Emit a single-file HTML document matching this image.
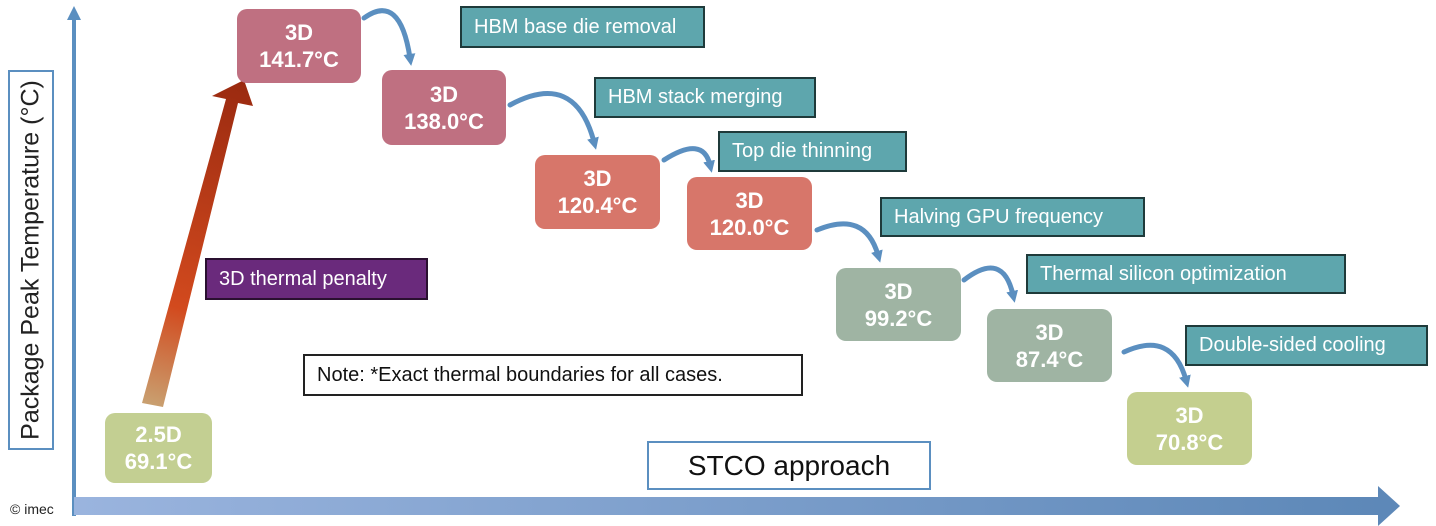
<!DOCTYPE html>
<html><head><meta charset="utf-8"><style>
body{margin:0;width:1436px;height:526px;background:#fff;position:relative;overflow:hidden;font-family:"Liberation Sans",sans-serif}
.b{position:absolute;border-radius:10px;color:#fff;font-weight:bold;font-size:22px;text-align:center;line-height:27px;display:flex;flex-direction:column;justify-content:center}
.l{position:absolute;background:#5ea6ad;border:2px solid #1f3a3a;color:#fff;font-size:20px;box-sizing:border-box;padding-left:12px;display:flex;align-items:center}
</style></head><body>
<svg width="1436" height="526" style="position:absolute;left:0;top:0">
<defs>
<linearGradient id="ax" x1="0" x2="1"><stop offset="0" stop-color="#9ab4de"/><stop offset="1" stop-color="#5d88b8"/></linearGradient>
<linearGradient id="ra" x1="152" y1="405" x2="245" y2="82" gradientUnits="userSpaceOnUse"><stop offset="0" stop-color="#c9a070"/><stop offset="0.3" stop-color="#d24a1e"/><stop offset="1" stop-color="#9a2a10"/></linearGradient>
<marker id="ah" markerWidth="12" markerHeight="12" refX="4" refY="6" orient="auto" markerUnits="userSpaceOnUse"><path d="M0,0 L12,6 L0,12z" fill="#5b8fc0"/></marker>
</defs>
<rect x="72" y="14" width="4" height="502" fill="#5b8fc0"/>
<path d="M67,20 L74,6 L81,20z" fill="#5b8fc0"/>
<rect x="74" y="497" width="1306" height="18" fill="url(#ax)"/>
<path d="M1378,486 L1400,506 L1378,526z" fill="#5d88b8"/>
<path d="M142,403 L163,407 L238,103 L253,106 L244,80 L212,96 L226,99z" fill="url(#ra)"/>
<g fill="none" stroke="#5b8fc0" stroke-width="5" stroke-linecap="round">
<path d="M364,18 Q400,-8 410,58" marker-end="url(#ah)"/>
<path d="M510,105 Q575,70 594,142" marker-end="url(#ah)"/>
<path d="M664,160 Q703,135 710,165" marker-end="url(#ah)"/>
<path d="M817,230 Q865,210 878,255" marker-end="url(#ah)"/>
<path d="M964,280 Q1003,250 1013,295" marker-end="url(#ah)"/>
<path d="M1124,352 Q1172,330 1186,380" marker-end="url(#ah)"/>
</g>
</svg>
<div style="position:absolute;left:8px;top:70px;width:46px;height:380px;border:2px solid #5b8fc0;box-sizing:border-box"></div>
<div style="position:absolute;left:31px;top:260px;transform:translate(-50%,-50%) rotate(-90deg);white-space:nowrap;font-size:25px;color:#222">Package Peak Temperature (°C)</div>
<div style="position:absolute;left:10px;top:501px;font-size:14px;color:#222">© imec</div>
<div class="b" style="left:237px;top:9px;width:124px;height:74px;background:#bf7081">3D<br>141.7°C</div>
<div class="b" style="left:382px;top:70px;width:124px;height:75px;background:#bf7081">3D<br>138.0°C</div>
<div class="b" style="left:535px;top:155px;width:125px;height:74px;background:#d7766a">3D<br>120.4°C</div>
<div class="b" style="left:687px;top:177px;width:125px;height:73px;background:#d7766a">3D<br>120.0°C</div>
<div class="b" style="left:836px;top:268px;width:125px;height:73px;background:#9fb4a3">3D<br>99.2°C</div>
<div class="b" style="left:987px;top:309px;width:125px;height:73px;background:#9fb4a3">3D<br>87.4°C</div>
<div class="b" style="left:1127px;top:392px;width:125px;height:73px;background:#c4cf8f">3D<br>70.8°C</div>
<div class="b" style="left:105px;top:413px;width:107px;height:70px;background:#c3cf92">2.5D<br>69.1°C</div>
<div class="l" style="left:460px;top:6px;width:245px;height:42px">HBM base die removal</div>
<div class="l" style="left:594px;top:77px;width:222px;height:41px">HBM stack merging</div>
<div class="l" style="left:718px;top:131px;width:189px;height:41px">Top die thinning</div>
<div class="l" style="left:880px;top:197px;width:265px;height:40px">Halving GPU frequency</div>
<div class="l" style="left:1026px;top:254px;width:320px;height:40px">Thermal silicon optimization</div>
<div class="l" style="left:1185px;top:325px;width:243px;height:41px">Double-sided cooling</div>
<div class="l" style="left:205px;top:258px;width:223px;height:42px;background:#6a2a7c;border-color:#2a1030">3D thermal penalty</div>
<div class="l" style="left:303px;top:354px;width:500px;height:42px;background:#fff;border-color:#222;color:#111">Note: *Exact thermal boundaries for all cases.</div>
<div style="position:absolute;left:647px;top:441px;width:284px;height:49px;border:2px solid #5b8fc0;box-sizing:border-box;font-size:28px;color:#111;display:flex;align-items:center;justify-content:center">STCO approach</div>
</body></html>
